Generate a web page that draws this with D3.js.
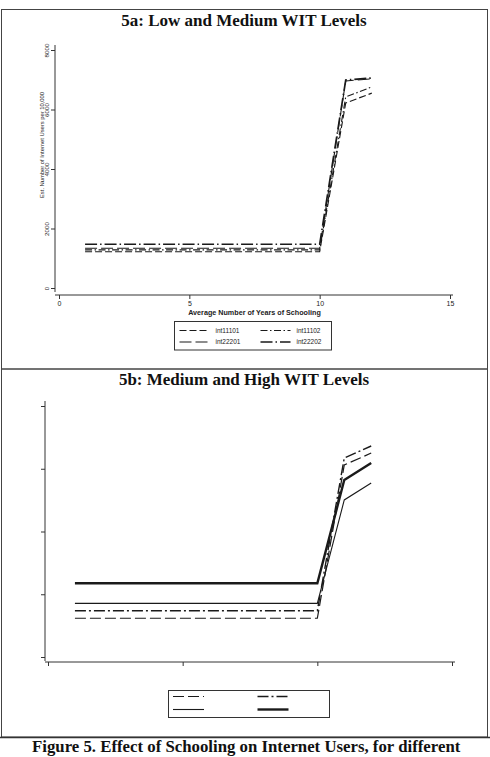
<!DOCTYPE html>
<html><head><meta charset="utf-8">
<script src="https://cdn.jsdelivr.net/npm/d3@7"></script>
<style>body{margin:0;background:#fff}svg{display:block}</style>
</head><body><svg id="c" width="490" height="757"></svg>
<script>
// ---- data ----
const years = [1, 10, 11, 12];
const xTicks = [0, 5, 10, 15];
const yTicks = [0, 2000, 4000, 6000, 8000];
const yTickLabels = ["0", "2000", "4000", "6000", "8000"];

// Panel 5a series
const namesA = ["int11101", "int11102", "int22201", "int22202"];
const int11101 = [1220, 1220, 6220, 6550];
const int11102 = [1280, 1280, 6420, 6760];
const int22201 = [1335, 1335, 6960, 7030];
const int22202 = [1470, 1470, 6990, 7060];

// Panel 5b series (legend labels blank in the original)
const namesB = ["", "", "", ""];
const b1 = [1235, 1235, 6120, 6500];
const b2 = [1475, 1475, 6340, 6725];
const b3 = [1710, 1710, 5005, 5545];
const b4 = [2350, 2350, 5640, 6185];

const titleA = "5a: Low and Medium WIT Levels";
const titleB = "5b: Medium and High WIT Levels";
const xTitle = "Average Number of Years of Schooling";
const yTitle = "Est. Number of Internet Users per 10,000";
const caption = "Figure 5. Effect of Schooling on Internet Users, for different";

// ---- styles ----
const stylesA = [
  {dash: "7,3", w: 1.1},
  {dash: "7,2.5,1.5,2.5", w: 1.1},
  {dash: "12,4", w: 1.1},
  {dash: "12,3,1.5,3", w: 1.7}
];
const stylesB = [
  {dash: "11,4", w: 1.2},
  {dash: "11,3,2,3", w: 1.4},
  {dash: null, w: 1.1},
  {dash: null, w: 2.4}
];
const ink = "#1a1a1a";
const sans = "'Liberation Sans', Arial, sans-serif";
const serif = "'Liberation Serif', 'Times New Roman', serif";

const svg = d3.select("#c");
svg.append("rect").attr("width", 490).attr("height", 757).attr("fill", "#fff");

// frames
svg.append("rect").attr("x", 1.5).attr("y", 9.5).attr("width", 486).attr("height", 359.5)
  .attr("fill", "none").attr("stroke", "#444").attr("stroke-width", 1);
svg.append("rect").attr("x", 1.5).attr("y", 369).attr("width", 486).attr("height", 368)
  .attr("fill", "none").attr("stroke", "#444").attr("stroke-width", 1);
svg.append("line").attr("x1", 0).attr("x2", 490).attr("y1", 737.5).attr("y2", 737.5)
  .attr("stroke", "#333").attr("stroke-width", 1.5);

function panel(cfg) {
  const g = svg.append("g");
  const x = d3.scaleLinear().domain([0, 15]).range(cfg.xr);
  const y = d3.scaleLinear().domain([0, 8000]).range(cfg.yr);

  // title
  g.append("text").attr("x", 244).attr("y", cfg.titleY).attr("text-anchor", "middle")
    .attr("font-family", serif).attr("font-weight", "bold").attr("font-size", 17)
    .attr("fill", "#111").text(cfg.title);

  // y axis
  const ya = g.append("g").attr("transform", `translate(${cfg.yAxisX},0)`)
    .call(d3.axisLeft(y).tickValues(yTicks).tickSize(4).tickSizeOuter(0)
      .tickFormat((d, i) => cfg.labels ? yTickLabels[i] : ""));
  ya.select(".domain").attr("d", `M0,${cfg.yr[1] - 5}V${cfg.yr[0] + 4}`).attr("stroke", "#333");
  ya.selectAll(".tick line").attr("stroke", "#333");
  ya.selectAll(".tick text").attr("font-family", sans).attr("font-size", 6.2).attr("fill", "#222")
    .attr("transform", "rotate(-90)").attr("x", 0).attr("y", -6).attr("dy", 0)
    .attr("text-anchor", "middle");

  // x axis
  const xa = g.append("g").attr("transform", `translate(0,${cfg.xAxisY})`)
    .call(d3.axisBottom(x).tickValues(xTicks).tickSize(4).tickSizeOuter(0)
      .tickFormat(d => cfg.labels ? String(d) : ""));
  xa.select(".domain").attr("d", `M${cfg.yAxisX},0H${cfg.xr[1] + 3}`).attr("stroke", "#333");
  xa.selectAll(".tick line").attr("stroke", "#333");
  xa.selectAll(".tick text").attr("font-family", sans).attr("font-size", 7).attr("fill", "#222")
    .attr("y", 6).attr("dy", "0.71em");

  if (cfg.labels) {
    g.append("text").attr("x", (cfg.xr[0] + cfg.xr[1]) / 2).attr("y", cfg.xAxisY + 20)
      .attr("text-anchor", "middle").attr("font-family", sans).attr("font-size", 7.2)
      .attr("font-weight", "bold").attr("fill", "#222").text(xTitle);
    g.append("text").attr("transform", `translate(${cfg.yAxisX - 11},${cfg.yTitleY}) rotate(-90)`)
      .attr("text-anchor", "middle").attr("font-family", sans).attr("font-size", 5.8)
      .attr("fill", "#222").text(yTitle);
  }

  // lines
  const line = d3.line().x((d, i) => x(years[i])).y(d => y(d));
  cfg.series.forEach((s, k) => {
    g.append("path").attr("d", line(s)).attr("fill", "none").attr("stroke", ink)
      .attr("stroke-width", cfg.styles[k].w)
      .attr("stroke-dasharray", cfg.styles[k].dash)
      .attr("stroke-linejoin", "miter");
  });

  // legend
  const L = cfg.legend;
  g.append("rect").attr("x", L.x).attr("y", L.y).attr("width", L.w).attr("height", L.h)
    .attr("fill", "#fff").attr("stroke", "#333").attr("stroke-width", 1);
  cfg.names.forEach((n, k) => {
    const col = k % 2, row = Math.floor(k / 2);
    const sx = L.x + L.sx[col], sy = L.y + L.rows[row];
    g.append("line").attr("x1", sx).attr("x2", sx + L.sw).attr("y1", sy).attr("y2", sy)
      .attr("stroke", ink).attr("stroke-width", cfg.styles[k].w)
      .attr("stroke-dasharray", cfg.styles[k].dash);
    if (n) {
      g.append("text").attr("x", sx + L.sw + 6).attr("y", sy + 2.2)
        .attr("font-family", sans).attr("font-size", 6.5).attr("fill", "#222").text(n);
    }
  });
}

panel({
  title: titleA, titleY: 26,
  xr: [59, 450], yr: [288, 50],
  yAxisX: 55, xAxisY: 295, yTitleY: 145, labels: true,
  series: [int11101, int11102, int22201, int22202], names: namesA, styles: stylesA,
  legend: {x: 174.5, y: 321.5, w: 157, h: 28.5, sx: [5, 86], sw: 30, rows: [9, 20.5]}
});
panel({
  title: titleB, titleY: 385,
  xr: [48, 452], yr: [657, 406],
  yAxisX: 45, xAxisY: 662, yTitleY: 530, labels: false,
  series: [b1, b2, b3, b4], names: namesB, styles: stylesB,
  legend: {x: 168.5, y: 690.5, w: 161, h: 27, sx: [4.5, 89], sw: 31, rows: [6, 19]}
});

svg.append("text").attr("x", 32).attr("y", 752).attr("font-family", serif)
  .attr("font-weight", "bold").attr("font-size", 16.8).attr("fill", "#111").text(caption);
</script>
</body></html>
